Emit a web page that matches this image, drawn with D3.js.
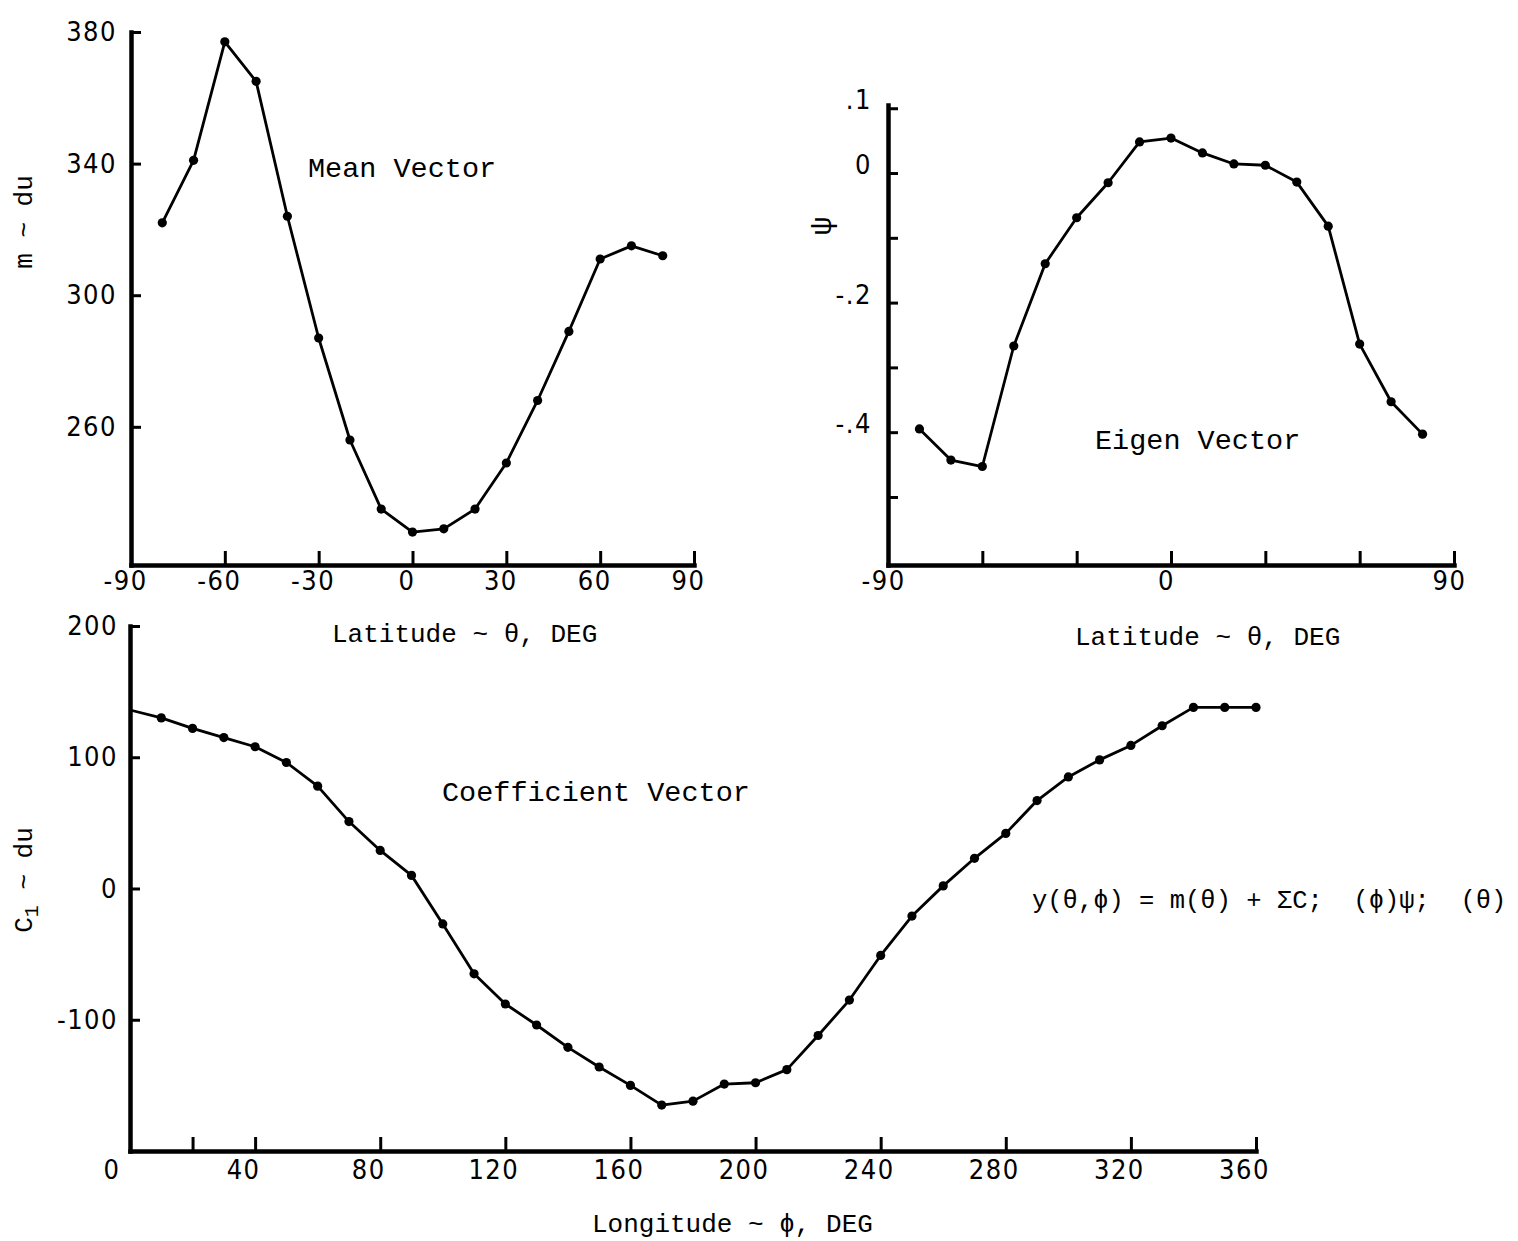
<!DOCTYPE html>
<html><head><meta charset="utf-8">
<script src="https://cdn.jsdelivr.net/npm/d3@7"></script>
<style>
body{margin:0;background:#fff;}
svg{display:block;background:#fff;}
.num{font-family:"Liberation Sans Narrow","DejaVu Sans Condensed","Roboto Condensed","Liberation Sans",sans-serif;font-size:27px;letter-spacing:1.5px;fill:#000;}
.tw{font-family:"Liberation Mono","DejaVu Sans Mono",monospace;fill:#000;}
</style></head><body>
<svg id="c" width="1518" height="1241"></svg>
<script>
// ---------- data ----------
const latitudes = [-80,-70,-60,-50,-40,-30,-20,-10,0,10,20,30,40,50,60,70,80];
const meanVector = [322,341,377,365,324,287,256,235,228,229,235,249,268,289,311,315,312];
const eigenVector = [-0.395,-0.443,-0.453,-0.267,-0.140,-0.069,-0.015,0.048,0.054,0.031,0.014,0.012,-0.014,-0.082,-0.264,-0.353,-0.403];
const longitudes = [0,10,20,30,40,50,60,70,80,90,100,110,120,130,140,150,160,170,180,190,200,210,220,230,240,250,260,270,280,290,300,310,320,330,340,350,360];
const coefficientVector = [136,130,122,115,108,96,78,51,29,10,-27,-65,-88,-104,-121,-136,-150,-165,-162,-149,-148,-138,-112,-85,-51,-21,2,23,42,67,85,98,109,124,138,138,138];

// ---------- tick labels ----------
const latTicks = [-90,-60,-30,0,30,60,90];
const meanXTickLabels = ["-90","-60","-30","0","30","60","90"];
const meanYTicks = [260,300,340,380];
const meanYTickLabels = ["260","300","340","380"];
const eigenXTickLabels = ["-90","","","0","","","90"];
const eigenYTicks = [-0.5,-0.4,-0.3,-0.2,-0.1,0,0.1];
const eigenYTickLabels = ["","-.4","","-.2","","0",".1"];
const lonTicks = [20,40,80,120,160,200,240,280,320,360];
const lonTickLabels = ["","40","80","120","160","200","240","280","320","360"];
const coefYTicks = [-100,0,100,200];
const coefYTickLabels = ["-100","0","100","200"];

const svg = d3.select("#c");

function axes(g, x, y, o) {
  const bottom = y.range()[0], left = x.range()[0];
  const xa = d3.axisBottom(x).tickValues(o.xTicks).tickFormat((d,i)=>o.xLabels[i])
    .tickSizeInner(-o.xTickLen).tickSizeOuter(0).tickPadding(o.xPad);
  const gx = g.append("g").attr("transform",`translate(0,${bottom})`).call(xa);
  const ya = d3.axisLeft(y).tickValues(o.yTicks).tickFormat((d,i)=>o.yLabels[i])
    .tickSizeInner(-o.yTickLen).tickSizeOuter(0).tickPadding(o.yPad);
  const gy = g.append("g").attr("transform",`translate(${left},0)`).call(ya);
  [gx, gy].forEach(a => {
    a.select(".domain").attr("stroke","#000").attr("stroke-width",4.5).attr("stroke-linecap","square");
    a.selectAll(".tick line").attr("stroke","#000").attr("stroke-width",3);
    a.selectAll(".tick text").attr("class","num");
  });
  gx.selectAll(".tick text").attr("dx", o.xdx || 0);
  gy.selectAll(".tick text").attr("dy", o.ydy || "0.32em");
  return {gx, gy};
}

function series(g, x, y, xs, ys, dotFilter) {
  const pts = xs.map((d,i)=>[d, ys[i]]);
  g.append("path").datum(pts)
    .attr("d", d3.line().x(d=>x(d[0])).y(d=>y(d[1])))
    .attr("fill","none").attr("stroke","#000").attr("stroke-width",2.8).attr("stroke-linejoin","round");
  g.selectAll("circle.pt").data(pts.filter(dotFilter || (()=>true))).join("circle")
    .attr("class","pt").attr("cx",d=>x(d[0])).attr("cy",d=>y(d[1])).attr("r",4.6).attr("fill","#000");
}

// ---------- Mean Vector (top-left) ----------
{
  const g = svg.append("g");
  const x = d3.scaleLinear().domain([-90,90]).range([131,694]);
  const y = d3.scaleLinear().domain([218,380]).range([565,32]);
  axes(g, x, y, {xTicks:latTicks, xLabels:meanXTickLabels, xTickLen:14, xPad:6, xdx:-6,
                 yTicks:meanYTicks, yLabels:meanYTickLabels, yTickLen:10, yPad:14});
  series(g, x, y, latitudes, meanVector);
  g.append("text").attr("class","tw").attr("x",308).attr("y",177).attr("font-size",28.5).text("Mean Vector");
  g.append("text").attr("class","tw").attr("x",332).attr("y",642).attr("font-size",26).text("Latitude ~ θ, DEG");
  g.append("text").attr("class","tw").attr("font-size",26).attr("text-anchor","middle")
    .attr("transform","translate(32,222) rotate(-90)").text("m ~ du");
}

// ---------- Eigen Vector (top-right) ----------
{
  const g = svg.append("g");
  const x = d3.scaleLinear().domain([-90,90]).range([888,1454]);
  const y = d3.scaleLinear().domain([-0.605,0.105]).range([565,105]);
  axes(g, x, y, {xTicks:latTicks, xLabels:eigenXTickLabels, xTickLen:14, xPad:6, xdx:-5,
                 yTicks:eigenYTicks, yLabels:eigenYTickLabels, yTickLen:10, yPad:16, ydy:"0.02em"});
  series(g, x, y, latitudes, eigenVector);
  g.append("text").attr("class","tw").attr("x",1095).attr("y",449).attr("font-size",28.5).text("Eigen Vector");
  g.append("text").attr("class","tw").attr("x",1075).attr("y",645).attr("font-size",26).text("Latitude ~ θ, DEG");
  g.append("text").attr("class","tw").attr("font-size",30).attr("text-anchor","middle")
    .attr("transform","translate(831,226) rotate(-90)").text("ψ");
}

// ---------- Coefficient Vector (bottom) ----------
{
  const g = svg.append("g");
  const x = d3.scaleLinear().domain([0,360]).range([130,1256]);
  const y = d3.scaleLinear().domain([-200,200]).range([1151,626]);
  axes(g, x, y, {xTicks:lonTicks, xLabels:lonTickLabels, xTickLen:14, xPad:9, xdx:-12,
                 yTicks:coefYTicks, yLabels:coefYTickLabels, yTickLen:10, yPad:12});
  // the "0" label at the origin
  g.append("text").attr("class","num").attr("x",x(0)-18).attr("y",1151+9).attr("dy","0.71em")
    .attr("text-anchor","middle").text("0");
  series(g, x, y, longitudes, coefficientVector, d=>d[0]>0);
  g.append("text").attr("class","tw").attr("x",442).attr("y",801).attr("font-size",28.5).text("Coefficient Vector");
  g.append("text").attr("class","tw").attr("x",592).attr("y",1232).attr("font-size",26).text("Longitude ~ ϕ, DEG");
  const yl = g.append("text").attr("class","tw").attr("font-size",26).attr("text-anchor","middle")
    .attr("transform","translate(32,880) rotate(-90)");
  yl.append("tspan").text("C");
  yl.append("tspan").attr("font-size",20).attr("dy",6).text("1");
  yl.append("tspan").attr("dy",-6).text(" ~ du");
  g.append("text").attr("class","tw").attr("x",1032).attr("y",908).attr("font-size",25.5)
    .attr("xml:space","preserve").style("white-space","pre")
    .text("y(θ,ϕ) = m(θ) + ΣC;  (ϕ)ψ;  (θ)");
}
</script>
</body></html>
